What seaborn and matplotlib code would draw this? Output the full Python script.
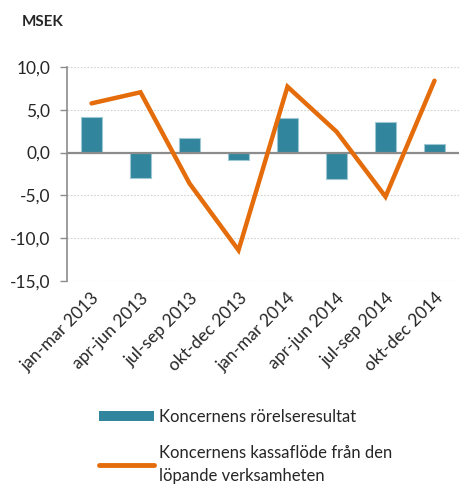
import matplotlib
matplotlib.use('Agg')
import matplotlib.pyplot as plt
import seaborn as sns
from matplotlib.patches import Patch
from matplotlib.lines import Line2D

# data
quarters = ['jan-mar 2013', 'apr-jun 2013', 'jul-sep 2013', 'okt-dec 2013',
            'jan-mar 2014', 'apr-jun 2014', 'jul-sep 2014', 'okt-dec 2014']
rorelseresultat = [4.2, -3.0, 1.75, -0.85, 4.0, -3.1, 3.6, 0.95]
kassaflode = [5.75, 7.05, -3.6, -11.4, 7.7, 2.45, -5.15, 8.4]

bar_color = '#31859C'
line_color = '#E46C0A'

sns.set_style('white')
plt.rcParams['font.family'] = ['Lato', 'DejaVu Sans']

fig = plt.figure(figsize=(4.6, 4.87), dpi=100)
ax = fig.add_axes([67/460, 1 - 281/487, 392/460, 214/487])

sns.barplot(x=quarters, y=rorelseresultat, color=bar_color, width=0.41,
            edgecolor='#9CC7D3', linewidth=0.8, saturation=1, ax=ax, zorder=3)
sns.lineplot(x=quarters, y=kassaflode, sort=False, color=line_color,
             linewidth=3.2, ax=ax, zorder=4)
ax.lines[-1].set_solid_capstyle('round')
ax.lines[-1].set_solid_joinstyle('miter')

ax.set_ylim(-15, 10)
ax.set_xlim(-0.5, 7.5)
ax.set_yticks([-15, -10, -5, 0, 5, 10])
ax.set_yticklabels(['-15,0', '-10,0', '-5,0', '0,0', '5,0', '10,0'], fontsize=12.5)
ax.yaxis.grid(True, linestyle=(0, (1.5, 1.5)), color='#D2D2D2', linewidth=0.8)
ax.set_axisbelow(True)
ax.axhline(0, color='#8C8C8C', linewidth=1.6, zorder=3.5)

for s in ['top', 'right', 'bottom']:
    ax.spines[s].set_visible(False)
ax.spines['left'].set_color('#8C8C8C')
ax.spines['left'].set_linewidth(1.2)
ax.tick_params(axis='y', left=True, length=5, width=1.0, color='#8C8C8C', pad=7)
ax.tick_params(axis='x', bottom=False, pad=3)
ax.set_xticks(range(len(quarters)))
ax.set_xticklabels(quarters, rotation=45, ha='right', rotation_mode='anchor', fontsize=12.5)

fig.text(22/460, 1 - 22/487, 'MSEK', fontsize=11, fontweight='bold', va='center')

handles = [Patch(facecolor=bar_color, edgecolor='none'),
           Line2D([0], [0], color=line_color, linewidth=3.5, solid_capstyle='round')]
labels = ['Koncernens rörelseresultat',
          'Koncernens kassaflöde från den\nlöpande verksamheten']
leg = fig.legend(handles, labels, loc='upper left', bbox_to_anchor=(84/460, 1 - 394/487),
                 frameon=False, fontsize=12, handlelength=3.3, handleheight=0.5,
                 handletextpad=0.3, labelspacing=1.2)
for t in leg.get_texts():
    t.set_linespacing(1.5)

fig.savefig('out.png', dpi=100)
